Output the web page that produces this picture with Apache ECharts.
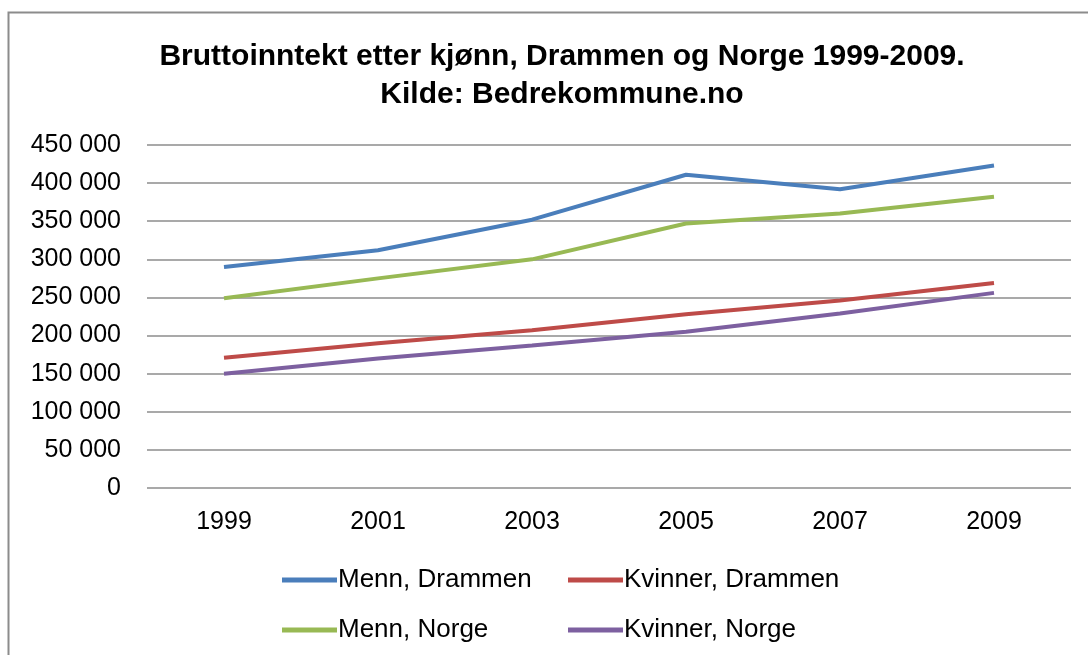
<!DOCTYPE html>
<html><head><meta charset="utf-8">
<script src="https://cdn.jsdelivr.net/npm/echarts@6/dist/echarts.min.js"></script>
<style>html,body{margin:0;padding:0;background:#fff}#c{width:1088px;height:655px}</style>
</head><body><div id="c"></div>
<script>
const years = ['1999','2001','2003','2005','2007','2009'];
const mennDrammen = [290000, 312000, 352000, 411000, 392000, 423000];
const kvinnerDrammen = [171000, 190000, 207000, 228000, 246000, 269000];
const mennNorge = [249000, 275000, 300000, 347000, 360000, 382000];
const kvinnerNorge = [150000, 170000, 187000, 205000, 229000, 256000];
const names = ['Menn, Drammen','Kvinner, Drammen','Menn, Norge','Kvinner, Norge'];
const colors = ['#4a7ebb','#be4b48','#98b954','#7d60a0'];
const FONT = '"Liberation Sans", sans-serif';

const chart = echarts.init(document.getElementById('c'));
const fmt = v => v === 0 ? '0' : String(v).replace(/\B(?=(\d{3})+(?!\d))/g, ' ');
const legendPos = [[277,562],[563,562],[277,612],[563,612]];
chart.setOption({
  backgroundColor: '#fff',
  animation: false,
  graphic: [{type:'rect', shape:{x:8.5,y:12.5,width:1200,height:800}, style:{fill:'none', stroke:'#8c8c8c', lineWidth:2}}],
  title: {
    text: 'Bruttoinntekt etter kjønn, Drammen og Norge 1999-2009.\nKilde: Bedrekommune.no',
    left: 557, top: 33, textAlign: 'center',
    textStyle: {fontFamily: FONT, fontWeight: 'bold', fontSize: 30, lineHeight: 38, color: '#000'}
  },
  legend: legendPos.map((p,i) => ({
    data: [names[i]], left: p[0], top: p[1], itemWidth: 55, itemHeight: 5, itemGap: 0,
    icon: 'rect',
    textStyle: {fontFamily: FONT, fontSize: 26, color: '#000', padding: [0,0,0,-4]}
  })),
  grid: {left: 147, right: 17, top: 145, bottom: 167},
  xAxis: {
    type: 'category', data: years, boundaryGap: true,
    axisLine: {show: false}, axisTick: {show: false},
    axisLabel: {fontFamily: FONT, fontSize: 25, color: '#000', margin: 22}
  },
  yAxis: {
    type: 'value', min: 0, max: 450000, interval: 50000,
    axisLine: {show: false}, axisTick: {show: false},
    axisLabel: {fontFamily: FONT, fontSize: 25, color: '#000', margin: 26, formatter: fmt},
    splitLine: {lineStyle: {color: '#8c8c8c', width: 1.5}}
  },
  series: [mennDrammen, kvinnerDrammen, mennNorge, kvinnerNorge].map((d,i) => ({
    name: names[i], type: 'line', data: d, symbol: 'none',
    lineStyle: {color: colors[i], width: 4}, itemStyle: {color: colors[i]}
  }))
});
</script></body></html>
